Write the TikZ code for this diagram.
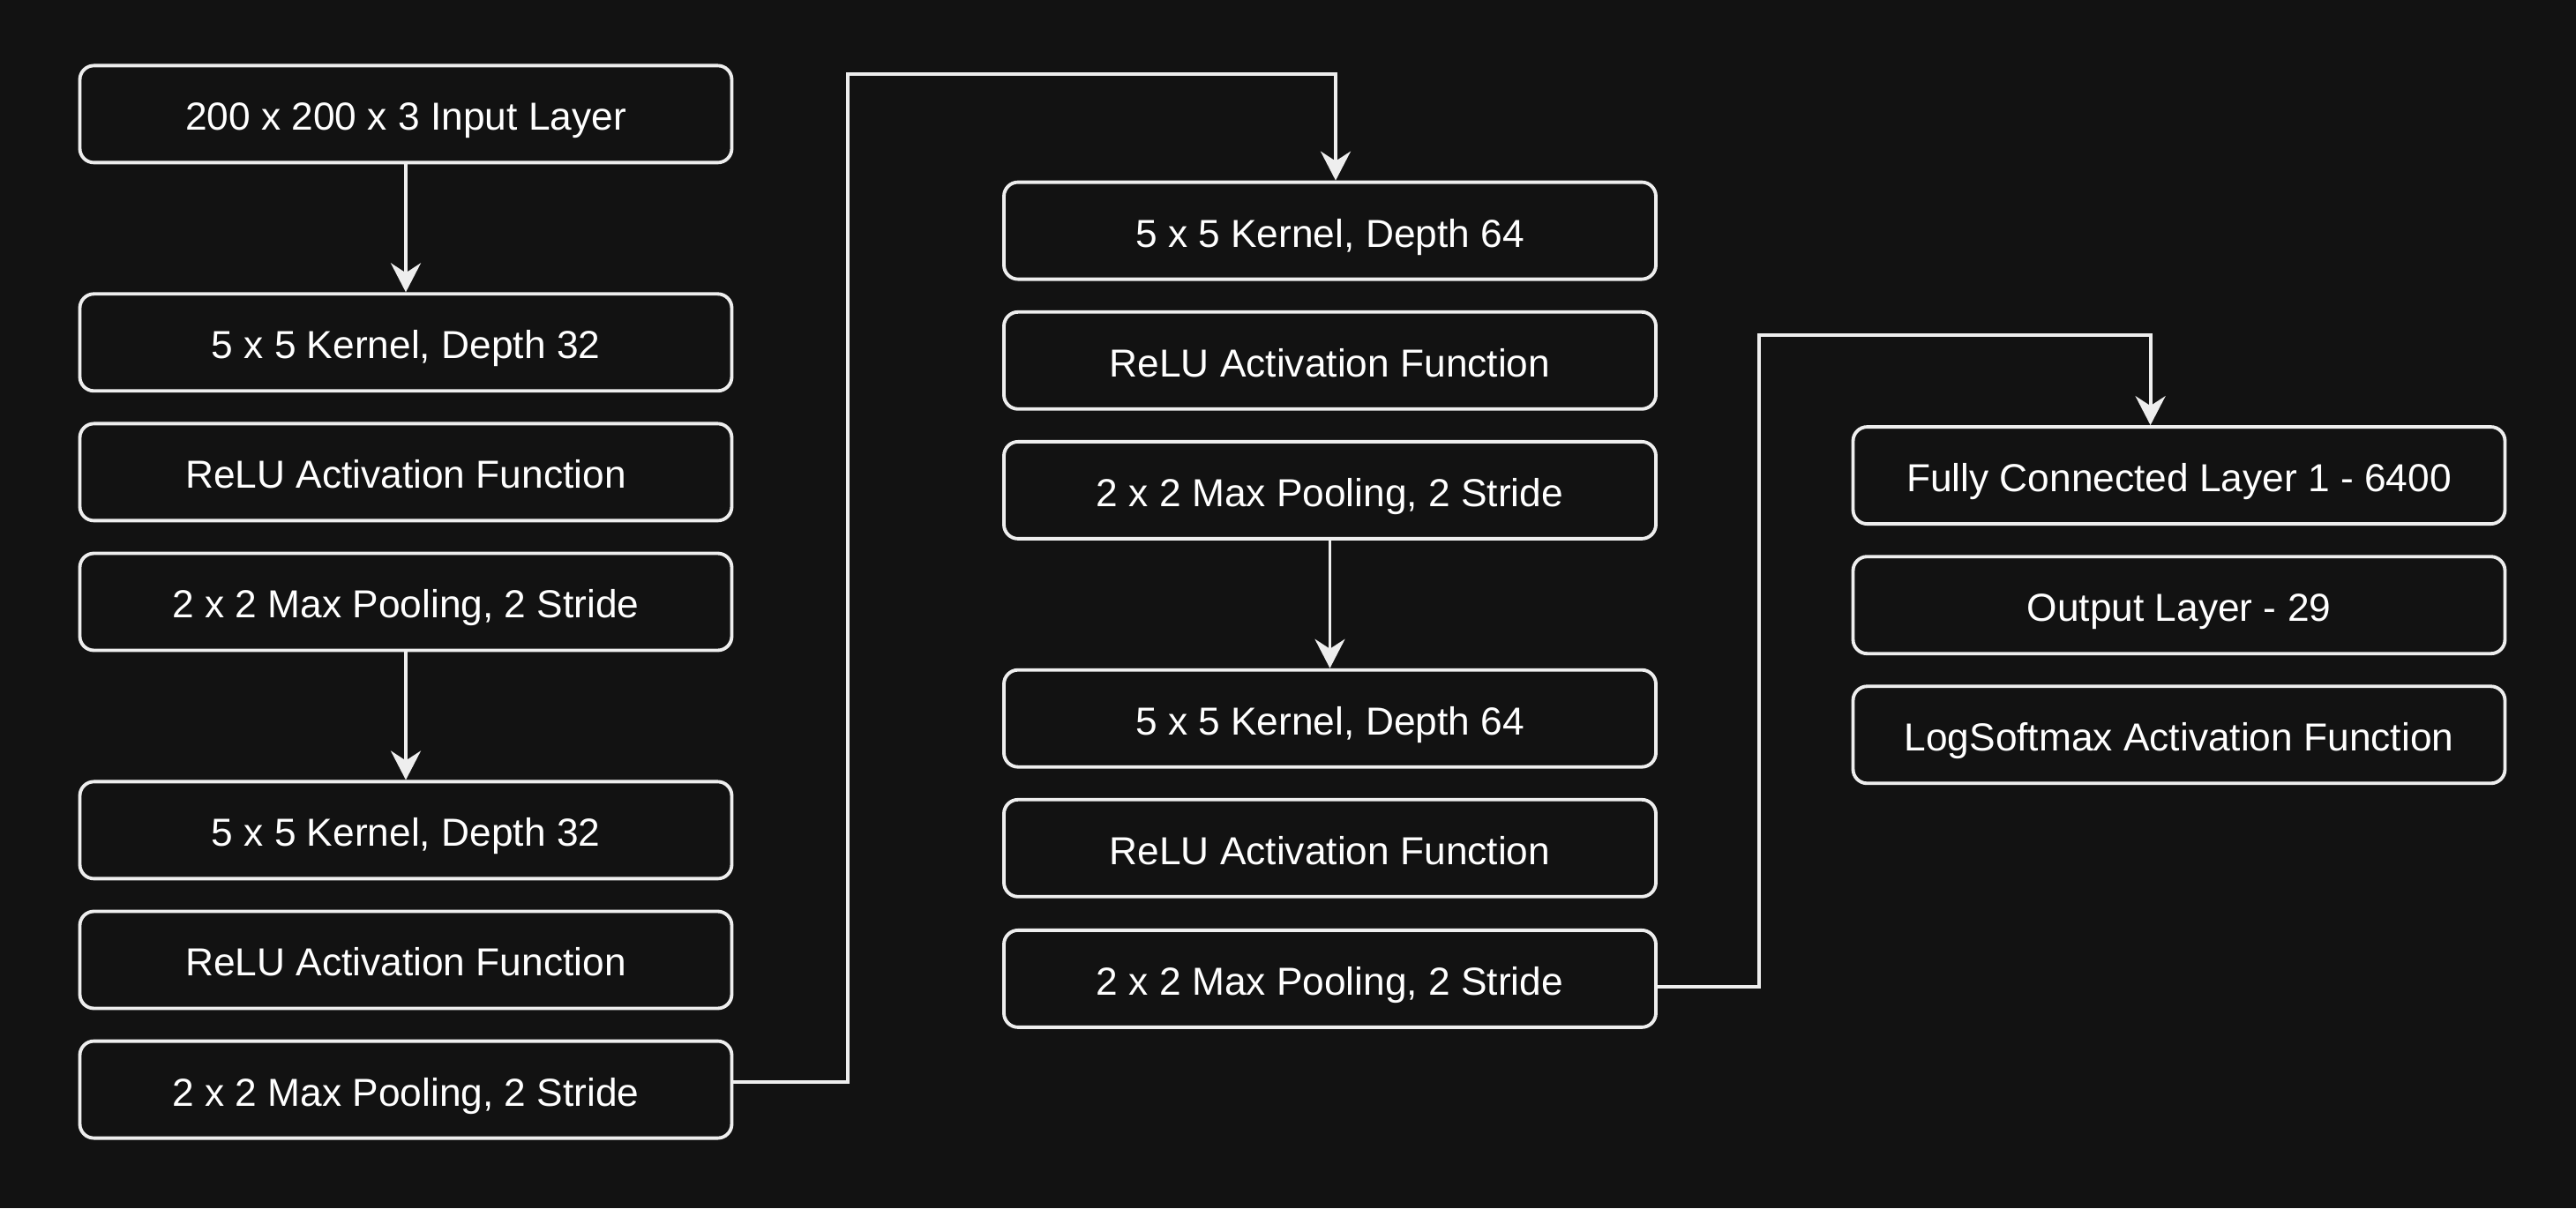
\documentclass[tikz,border=0pt]{standalone}
\usepackage{fontspec}
\setmainfont{Liberation Sans}
\usetikzlibrary{arrows.meta}
\definecolor{bgdark}{HTML}{121212}
\definecolor{lineclr}{HTML}{EEEEEE}

\begin{document}
\begin{tikzpicture}[
    layer/.style={draw=lineclr,line width=1.1pt,rounded corners=1.6mm,fill=bgdark,text=white,
        minimum width=7.39cm,minimum height=1.10cm,text height=12pt,text depth=1.5pt,
        font=\fontsize{12.6}{14}\selectfont},
    flow/.style={draw=lineclr,line width=1.1pt,-{Stealth[length=3.3mm,width=3.4mm,inset=1.1mm]}}]
    %背景
    \fill[bgdark](0,0) rectangle (29.2,13.7);
    \useasboundingbox (0,0) rectangle (29.2,13.7);
    %第一列
    \node[layer](in) at(4.60,12.406){200 x 200 x 3 Input Layer};
    \node[layer](k1) at(4.60,9.817){5 x 5 Kernel, Depth 32};
    \node[layer](relu1) at(4.60,8.346){ReLU Activation Function};
    \node[layer](pool1) at(4.60,6.875){2 x 2 Max Pooling, 2 Stride};
    \node[layer](k2) at(4.60,4.286){5 x 5 Kernel, Depth 32};
    \node[layer](relu2) at(4.60,2.815){ReLU Activation Function};
    \node[layer](pool2) at(4.60,1.344){2 x 2 Max Pooling, 2 Stride};
    %第二列
    \node[layer](k3) at(15.075,11.084){5 x 5 Kernel, Depth 64};
    \node[layer](relu3) at(15.075,9.612){ReLU Activation Function};
    \node[layer](pool3) at(15.075,8.141){2 x 2 Max Pooling, 2 Stride};
    \node[layer](k4) at(15.075,5.553){5 x 5 Kernel, Depth 64};
    \node[layer](relu4) at(15.075,4.082){ReLU Activation Function};
    \node[layer](pool4) at(15.075,2.601){2 x 2 Max Pooling, 2 Stride};
    %第三列
    \node[layer](fc1) at(24.70,8.309){Fully Connected Layer 1 - 6400};
    \node[layer](out) at(24.70,6.838){Output Layer - 29};
    \node[layer](lsm) at(24.70,5.367){LogSoftmax Activation Function};
    %拐点
    \coordinate (turn1) at (9.61,12.862);
    \coordinate (turn2) at (19.94,9.90);
    %箭头
    \draw[flow](in)--(k1);
    \draw[flow](pool1)--(k2);
    \draw[flow](pool3)--(k4);
    \draw[flow]([yshift=0.86mm]pool2.east) -| (turn1) -| ([xshift=0.65mm]k3.north);
    \draw[flow]([yshift=-0.9mm]pool4.east) -| (turn2) -| ([xshift=-3.24mm]fc1.north);
\end{tikzpicture}
\end{document}
